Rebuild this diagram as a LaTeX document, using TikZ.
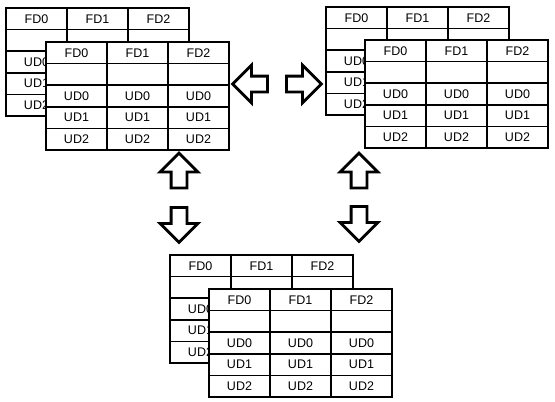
\documentclass[tikz,border=0pt]{standalone}
\usepackage{fontspec}
\setmainfont{Liberation Sans}
\usetikzlibrary{matrix, shapes.arrows}

\begin{document}
\begin{tikzpicture}[
    x=1pt, y=-1pt,
    tbl/.style={matrix of nodes, nodes in empty cells, anchor=north west, inner sep=0pt, column sep=-1.6pt, row sep=-1.6pt,
      nodes={draw, line width=1.6pt, fill=white, minimum width=61pt, minimum height=21.6pt, inner sep=0pt, outer sep=0pt, font=\fontsize{12.5}{14}\selectfont}},
    blk/.style={draw, single arrow, line width=2.8pt, inner sep=6.5pt, minimum height=35pt, single arrow head extend=11pt}
]
  \useasboundingbox (0,0) rectangle (555,402);

  \matrix (backA) [tbl] at (5,7) {
    FD0 & FD1 & FD2 \\
        &     &     \\
    UD0 & UD0 & UD0 \\
    UD1 & UD1 & UD1 \\
    UD2 & UD2 & UD2 \\
  };
  \matrix (frontA) [tbl] at (45,41) {
    FD0 & FD1 & FD2 \\
        &     &     \\
    UD0 & UD0 & UD0 \\
    UD1 & UD1 & UD1 \\
    UD2 & UD2 & UD2 \\
  };

  \matrix (backB) [tbl] at (325,6) {
    FD0 & FD1 & FD2 \\
        &     &     \\
    UD0 & UD0 & UD0 \\
    UD1 & UD1 & UD1 \\
    UD2 & UD2 & UD2 \\
  };
  \matrix (frontB) [tbl] at (364,39) {
    FD0 & FD1 & FD2 \\
        &     &     \\
    UD0 & UD0 & UD0 \\
    UD1 & UD1 & UD1 \\
    UD2 & UD2 & UD2 \\
  };

  \matrix (backC) [tbl] at (169,254) {
    FD0 & FD1 & FD2 \\
        &     &     \\
    UD0 & UD0 & UD0 \\
    UD1 & UD1 & UD1 \\
    UD2 & UD2 & UD2 \\
  };
  \matrix (frontC) [tbl] at (208,288) {
    FD0 & FD1 & FD2 \\
        &     &     \\
    UD0 & UD0 & UD0 \\
    UD1 & UD1 & UD1 \\
    UD2 & UD2 & UD2 \\
  };

  \node[blk, rotate=180] (arrL) at (254,84) {};
  \node[blk] (arrR) at (300,84) {};
  \node[blk, rotate=90] (arrUL) at (179,174.5) {};
  \node[blk, rotate=-90] (arrDL) at (179,221) {};
  \node[blk, rotate=90] (arrUR) at (359,174.5) {};
  \node[blk, rotate=-90] (arrDR) at (359,220) {};
\end{tikzpicture}
\end{document}
